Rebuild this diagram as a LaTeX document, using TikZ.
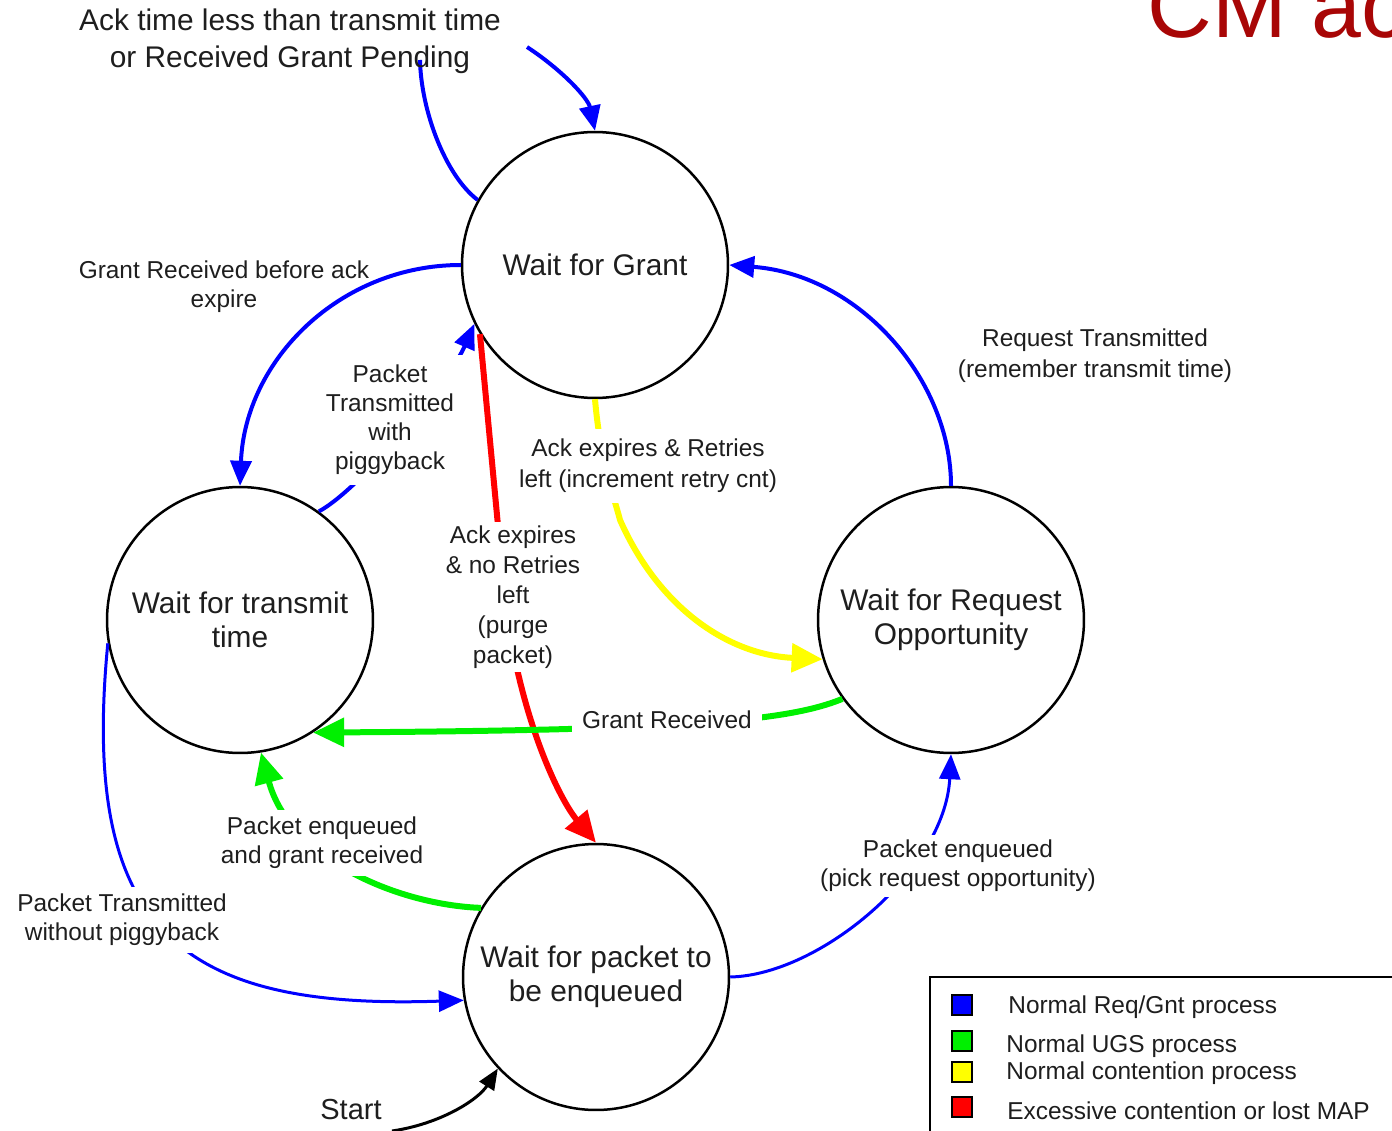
\documentclass[tikz,border=0pt]{standalone}
\usepackage{fontspec}
\setmainfont{Liberation Sans}
\usetikzlibrary{arrows.meta}
\definecolor{ink}{RGB}{30,30,30}
\definecolor{titlered}{RGB}{168,6,6}
\definecolor{reqblue}{RGB}{0,0,255}
\definecolor{ugsgreen}{RGB}{0,240,0}
\definecolor{contyellow}{RGB}{255,255,0}
\definecolor{lossred}{RGB}{255,0,0}

\begin{document}
\begin{tikzpicture}[x=0.02cm,y=-0.02cm,
  state/.style={circle,draw=black,line width=0.05cm,minimum size=5.32cm,
    inner sep=0pt,align=center,text=ink,font=\fontsize{17}{19.5}\selectfont},
  lbl/.style={align=center,text=ink,font=\fontsize{13.9}{16.5}\selectfont,inner sep=2pt},
  mask/.style={fill=white},
  bluethick/.style={draw=reqblue,line width=0.08cm},
  bluethin/.style={draw=reqblue,line width=0.06cm},
  greenline/.style={draw=ugsgreen,line width=0.12cm},
  yellowline/.style={draw=contyellow,line width=0.12cm},
  redline/.style={draw=lossred,line width=0.12cm},
  btip/.style={-{Triangle[length=0.5cm,width=0.42cm]}},
  bigtip/.style={-{Triangle[length=0.62cm,width=0.56cm]}},
  swatch/.style={draw=black,line width=0.04cm,minimum size=0.4cm,inner sep=0pt},
  legtext/.style={anchor=west,text=ink,font=\fontsize{13.9}{16.5}\selectfont,inner sep=0pt}
]
\useasboundingbox (0,0) rectangle (1392,1131);
\clip (0,0) rectangle (1392,1131);

% heading (runs off the top and right edges)
\node[anchor=base west,inner sep=0pt,text=titlered,font=\fontsize{51}{51}\selectfont] (title) at (1147,38) {CM ac};

% states
\node[state] (WG) at (595,265) {Wait for Grant};
\node[state] (WT) at (240,620) {Wait for transmit\\time};
\node[state] (WR) at (951,620) {Wait for Request\\Opportunity};
\node[state] (WE) at (596,977) {Wait for packet to\\be enqueued};

% loop on Wait for Grant (label sits between its two halves)
\coordinate (loopA) at (420,60);
\coordinate (loopB) at (527,47);
\draw[bluethick] (WG.151) .. controls (445,175) and (421,110) .. (loopA);
\draw[bluethick,btip] (loopB) .. controls (562,70) and (588,98) .. (WG.north);

% transitions
\draw[bluethick,btip] (WG.west) .. controls (340,265) and (245,360) .. (WT.north);
\draw[bluethick,btip] (WT.54) .. controls (362,488) and (450,380) .. (WG.206);
\draw[redline,bigtip] (WG.211) -- (505,600) .. controls (520,720) and (560,800) .. (WE.north);
\draw[yellowline,bigtip] (WG.south) .. controls (600,460) and (615,500) .. (620,520)
   .. controls (660,610) and (730,655) .. (WR.197);
\draw[bluethick,btip] (WR.north) .. controls (951,380) and (860,275) .. (WG.east);
\draw[greenline,bigtip] (WR.216) .. controls (790,720) and (700,730) .. (WT.303);
\draw[greenline,bigtip] (WE.149) .. controls (400,905) and (290,860) .. (WT.279);
\draw[bluethin,btip] (WT.190) .. controls (80,930) and (180,1010) .. (WE.190);
\draw[bluethin,btip] (WE.east) .. controls (820,975) and (945,870) .. (WR.south);

% start marker
\coordinate (st) at (392,1131);
\draw[black,line width=0.06cm,-{Triangle[length=0.42cm,width=0.34cm]}]
   (st) .. controls (440,1124) and (478,1100) .. (WE.223.5);
\node[lbl,font=\fontsize{16.5}{19}\selectfont] (startl) at (351,1110) {Start};

% labels
\node[lbl,font=\fontsize{17}{21}\selectfont] (ackl) at (290,41)
   {Ack time less than transmit time\\or Received Grant Pending};
\node[lbl,inner sep=0pt] (grl) at (224,287) {Grant Received before ack\\expire};
\node[lbl,mask,inner sep=6pt] (ptwl) at (390,420) {Packet\\Transmitted\\with\\piggyback};
\node[lbl,mask,font=\fontsize{13.9}{17}\selectfont] (nrl) at (513,597)
   {Ack expires\\\& no Retries\\left\\(purge\\packet)};
\node[lbl,mask,font=\fontsize{13.9}{17.5}\selectfont,inner sep=6pt] (yel) at (648,466)
   {Ack expires \& Retries\\left (increment retry cnt)};
\node[lbl,font=\fontsize{13.9}{17.5}\selectfont] (rtl) at (1095,356)
   {Request Transmitted\\(remember transmit time)};
\node[lbl,mask,inner sep=6pt] (grcl) at (667,720) {Grant Received};
\node[lbl,mask,inner sep=4pt] (pegl) at (322,843) {Packet enqueued\\and grant received};
\node[lbl,mask,inner sep=4pt] (ptnl) at (122,920) {Packet Transmitted\\without piggyback};
\node[lbl,mask,inner sep=3pt] (pel) at (958,866) {Packet enqueued\\(pick request opportunity)};

% legend
\draw[black,line width=0.05cm,fill=white] (930,977) rectangle (1420,1160);
\node[swatch,fill=reqblue] (sw1) at (962,1005) {};
\node[swatch,fill=ugsgreen] (sw2) at (962,1041) {};
\node[swatch,fill=contyellow] (sw3) at (962,1072) {};
\node[swatch,fill=lossred] (sw4) at (962,1107) {};
\node[legtext] (lg1) at (1008,1007) {Normal Req/Gnt process};
\node[legtext] (lg2) at (1006,1046) {Normal UGS process};
\node[legtext] (lg3) at (1006,1073) {Normal contention process};
\node[legtext] (lg4) at (1007,1111) {Excessive contention or lost MAP};
\end{tikzpicture}
\end{document}
